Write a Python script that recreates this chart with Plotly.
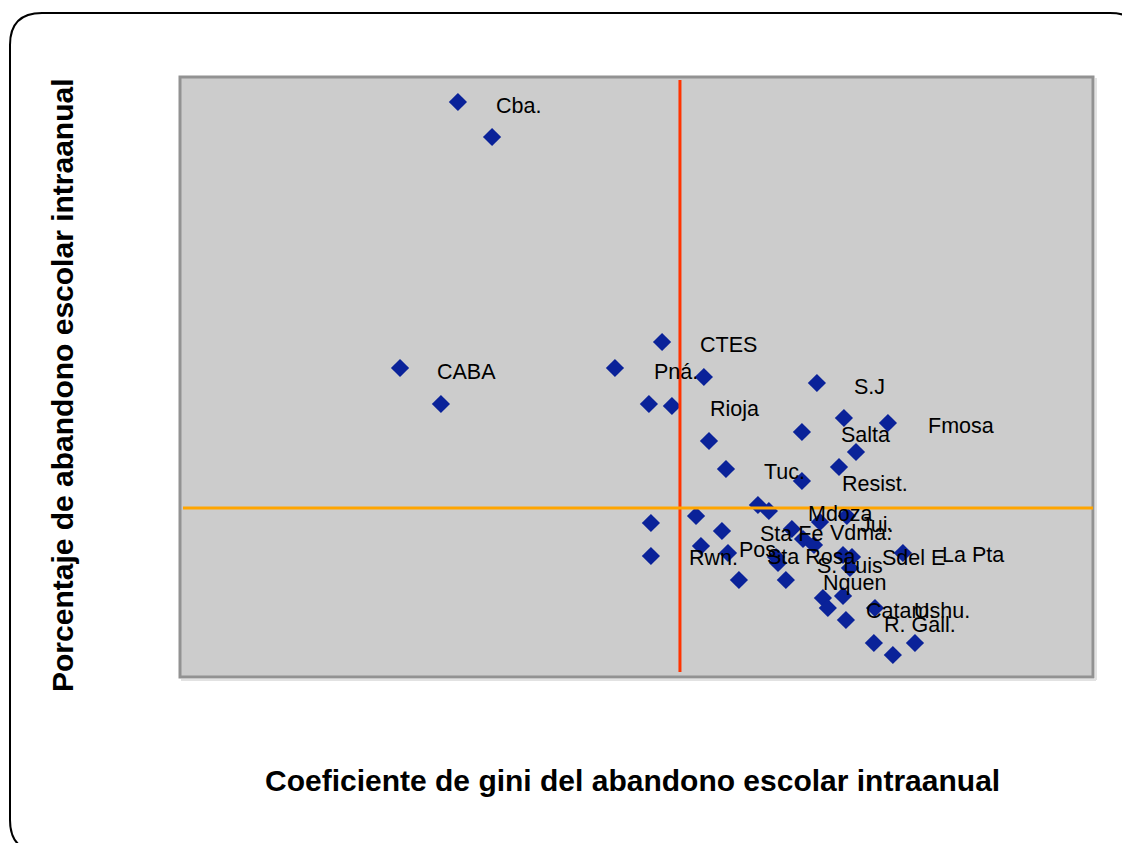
import plotly.graph_objects as go

# Data (gini coefficient vs % intra-annual dropout)
gini = [0.1522, 0.1709, 0.2640, 0.1205, 0.2382, 0.2869, 0.1429, 0.2568, 0.2694, 0.2897,
        0.2990, 0.3488, 0.3636, 0.3877, 0.3406, 0.3702, 0.3609, 0.3406, 0.3165, 0.3225,
        0.2826, 0.2579, 0.2968, 0.3505, 0.3652, 0.3351, 0.3412, 0.3472, 0.2853, 0.3001,
        0.2579, 0.3264, 0.3275, 0.3631, 0.3680, 0.3669, 0.3959, 0.3061, 0.3318, 0.3521,
        0.3548, 0.3631, 0.3806, 0.3647, 0.3800, 0.3904, 0.4025]
abandono = [9.583, 9.000, 5.583, 5.150, 5.150, 5.000, 4.550, 4.550, 4.517, 3.933,
            3.467, 4.900, 4.317, 4.233, 4.083, 3.750, 3.500, 3.267, 2.867, 2.767,
            2.683, 2.567, 2.433, 2.583, 2.683, 2.467, 2.300, 2.200, 2.183, 2.067,
            2.017, 2.000, 1.900, 2.033, 2.000, 1.817, 2.067, 1.617, 1.617, 1.317,
            1.150, 1.350, 1.150, 0.950, 0.567, 0.367, 0.567]

label_text = ["Cba.", "CTES", "CABA", "Pná.", "Rioja", "S.J", "Fmosa", "Salta", "Tuc.",
              "Resist.", "Mdoza", "Jui.", "Vdma:", "Sta Fe", "Pos.", "Rwn.", "Sta Rosa",
              "S. Luis", "Sdel E", "La Pta", "Nquen", "Catam.", "Ushu.", "R. Gall."]
label_x = [0.1730, 0.2848, 0.1407, 0.2596, 0.2902, 0.3691, 0.4096, 0.3620, 0.3198,
           0.3625, 0.3439, 0.3724, 0.3559, 0.3176, 0.3061, 0.2787, 0.3214,
           0.3488, 0.3844, 0.4173, 0.3521, 0.3757, 0.4019, 0.3855]
label_y = [9.517, 5.533, 5.083, 5.083, 4.467, 4.833, 4.183, 4.033, 3.417,
           3.217, 2.717, 2.533, 2.400, 2.383, 2.117, 1.983, 2.000,
           1.850, 1.983, 2.033, 1.567, 1.100, 1.100, 0.867]

gini_ref = 0.2738
abandono_ref = 2.817

x_range = [0, 0.5]
y_range = [0, 10]

# page offset (html body margin) compensation
OFF = 8
W, H = 1130, 843
PL, PR, PT, PB = 180, 1093, 77, 677   # plot area in screenshot pixels
pw, ph = PR - PL, PB - PT
L, T = PL - OFF, PT - OFF
R = W - L - pw
B = H - T - ph

def px_x(p):
    return (p - PL) / pw

def px_y(p):
    return (PB - p) / ph

FONT = "Liberation Sans, Arial"

fig = go.Figure()

fig.add_trace(go.Scatter(
    x=gini, y=abandono, mode="markers",
    marker=dict(symbol="diamond", size=14, color="#0A2299",
                line=dict(width=0)),
    hoverinfo="x+y", showlegend=False,
))

for t, lx, ly in zip(label_text, label_x, label_y):
    fig.add_annotation(x=lx, y=ly, text=t, showarrow=False, xanchor="left",
                       yanchor="middle", xref="x", yref="y", xshift=-2,
                       font=dict(family=FONT, size=21.5, color="black"))

shapes = []
# faint shadow under plot area
shapes.append(dict(type="line", xref="paper", yref="paper", x0=px_x(181), x1=px_x(1096),
                   y0=px_y(680), y1=px_y(680), line=dict(color="#E2E2E2", width=2)))
shapes.append(dict(type="line", xref="paper", yref="paper", x0=px_x(1096), x1=px_x(1096),
                   y0=px_y(680), y1=px_y(78), line=dict(color="#E2E2E2", width=2)))
# plot area border
shapes.append(dict(type="rect", xref="paper", yref="paper", x0=0, x1=1, y0=0, y1=1,
                   line=dict(color="#929292", width=3), fillcolor="rgba(0,0,0,0)", layer="above"))
# reference lines
shapes.append(dict(type="line", xref="x", yref="paper", x0=gini_ref, x1=gini_ref,
                   y0=px_y(672), y1=px_y(80), line=dict(color="#FF3300", width=3)))
shapes.append(dict(type="line", xref="paper", yref="y", x0=px_x(183), x1=1,
                   y0=abandono_ref, y1=abandono_ref, line=dict(color="#FFA500", width=3)))

# rounded frame around the whole slide
x0, x1 = px_x(10), px_x(1142)
y0, y1 = px_y(852), px_y(13)
rx, ry = 32 / pw, 32 / ph
path = (f"M {x0+rx},{y1} L {x1-rx},{y1} Q {x1},{y1} {x1},{y1-ry} "
        f"L {x1},{y0+ry} Q {x1},{y0} {x1-rx},{y0} "
        f"L {x0+rx},{y0} Q {x0},{y0} {x0},{y0+ry} "
        f"L {x0},{y1-ry} Q {x0},{y1} {x0+rx},{y1} Z")
shapes.append(dict(type="path", xref="paper", yref="paper", path=path,
                   line=dict(color="black", width=2), fillcolor="rgba(0,0,0,0)"))

fig.update_layout(
    width=W, height=H,
    margin=dict(l=L, r=R, t=T, b=B),
    paper_bgcolor="white", plot_bgcolor="#CCCCCC",
    xaxis=dict(range=x_range, showgrid=False, zeroline=False, showticklabels=False,
               ticks="", showline=False),
    yaxis=dict(range=y_range, showgrid=False, zeroline=False, showticklabels=False,
               ticks="", showline=False),
    shapes=shapes,
    font=dict(family=FONT),
)

fig.add_annotation(x=px_x(632), y=px_y(780), xref="paper", yref="paper",
                   text="<b>Coeficiente de gini del abandono escolar intraanual</b>",
                   showarrow=False, xanchor="center", yanchor="middle",
                   font=dict(family=FONT, size=30, color="black"))
fig.add_annotation(x=px_x(62), y=px_y(385), xref="paper", yref="paper",
                   text="<b>Porcentaje de abandono escolar intraanual</b>",
                   showarrow=False, textangle=-90, xanchor="center", yanchor="middle",
                   font=dict(family=FONT, size=30, color="black"))

fig.write_html("out.html")
